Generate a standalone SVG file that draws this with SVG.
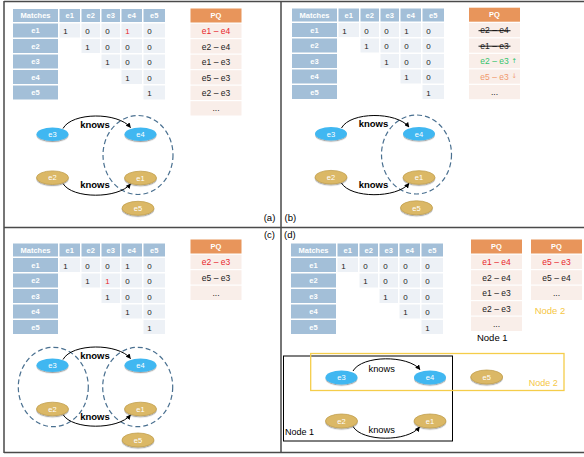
<svg xmlns="http://www.w3.org/2000/svg" width="584" height="457" viewBox="0 0 584 457">
<style>
.hd{fill:#a3bfd8}
.cl{fill:#edf1f6}
.ht{font-family:"Liberation Sans",Arial,sans-serif;font-weight:bold;font-size:7.5px;fill:#fff;text-anchor:middle}
.v{font-family:"Liberation Sans",Arial,sans-serif;font-size:8px;fill:#222;text-anchor:middle}
.pqh{fill:#e8955b}
.pqr{fill:#f9eee9}
.pt{font-family:"Liberation Sans",Arial,sans-serif;font-size:8.5px;fill:#222;text-anchor:middle}
.ph{font-family:"Liberation Sans",Arial,sans-serif;font-weight:bold;font-size:7.5px;fill:#fff;text-anchor:middle}
.red{fill:#e8262c}
.grn{fill:#34c46c}
.org{fill:#f0996c}
.ar{font-family:"DejaVu Sans",sans-serif;font-size:6.5px}
.blue ellipse{fill:#3fb7f1}
.tan ellipse{fill:#dbb866;stroke:#c29f4e;stroke-width:0.8}
.node ellipse{filter:url(#sh)}
.node text{font-family:"Liberation Sans",Arial,sans-serif;font-size:7.5px;fill:#fff;text-anchor:middle}
.edge{fill:none;stroke:#000;stroke-width:1;marker-end:url(#ah)}
.kb{font-family:"Liberation Sans",Arial,sans-serif;font-weight:bold;font-size:9.5px;fill:#000;text-anchor:middle}
.kn{font-family:"Liberation Sans",Arial,sans-serif;font-size:9.3px;fill:#000;text-anchor:middle}
.lbl{font-family:"Liberation Sans",Arial,sans-serif;font-size:9.5px;fill:#000}
.dash{fill:none;stroke:#4a7090;stroke-width:1.2;stroke-dasharray:5 3}
.strike{stroke:#000;stroke-width:0.9}
</style>
<defs>
<filter id="sh" x="-20%" y="-30%" width="140%" height="180%">
<feDropShadow dx="0" dy="1.2" stdDeviation="0.7" flood-color="#000" flood-opacity="0.35"/>
</filter>
<marker id="ah" viewBox="0 0 10 10" refX="9" refY="5" markerWidth="5" markerHeight="5" markerUnits="userSpaceOnUse" orient="auto">
<path d="M0,0 L10,5 L0,10 z" fill="#000"/>
</marker>
<g id="grid">
<rect class="hd" x="13" y="9" width="45" height="13"/>
<rect class="hd" x="59.5" y="9" width="20.5" height="13"/>
<rect class="hd" x="81.5" y="9" width="18.5" height="13"/>
<rect class="hd" x="101.5" y="9" width="18.5" height="13"/>
<rect class="hd" x="121.5" y="9" width="20.5" height="13"/>
<rect class="hd" x="143.5" y="9" width="21.5" height="13"/>
<rect class="hd" x="13" y="23.5" width="45" height="14"/>
<rect class="hd" x="13" y="39" width="45" height="14"/>
<rect class="hd" x="13" y="54.5" width="45" height="14"/>
<rect class="hd" x="13" y="70" width="45" height="14"/>
<rect class="hd" x="13" y="85.5" width="45" height="14"/>
<rect class="cl" x="59.5" y="23.5" width="20.5" height="14"/>
<rect class="cl" x="81.5" y="23.5" width="18.5" height="14"/>
<rect class="cl" x="101.5" y="23.5" width="18.5" height="14"/>
<rect class="cl" x="121.5" y="23.5" width="20.5" height="14"/>
<rect class="cl" x="143.5" y="23.5" width="21.5" height="14"/>
<rect class="cl" x="81.5" y="39" width="18.5" height="14"/>
<rect class="cl" x="101.5" y="39" width="18.5" height="14"/>
<rect class="cl" x="121.5" y="39" width="20.5" height="14"/>
<rect class="cl" x="143.5" y="39" width="21.5" height="14"/>
<rect class="cl" x="101.5" y="54.5" width="18.5" height="14"/>
<rect class="cl" x="121.5" y="54.5" width="20.5" height="14"/>
<rect class="cl" x="143.5" y="54.5" width="21.5" height="14"/>
<rect class="cl" x="121.5" y="70" width="20.5" height="14"/>
<rect class="cl" x="143.5" y="70" width="21.5" height="14"/>
<rect class="cl" x="143.5" y="85.5" width="21.5" height="14"/>
<text class="ht" x="35.5" y="18.3">Matches</text>
<text class="ht" x="69.75" y="18.3">e1</text>
<text class="ht" x="90.75" y="18.3">e2</text>
<text class="ht" x="110.75" y="18.3">e3</text>
<text class="ht" x="131.75" y="18.3">e4</text>
<text class="ht" x="154.25" y="18.3">e5</text>
<text class="ht" x="35.5" y="33.3">e1</text>
<text class="ht" x="35.5" y="48.8">e2</text>
<text class="ht" x="35.5" y="64.3">e3</text>
<text class="ht" x="35.5" y="79.8">e4</text>
<text class="ht" x="35.5" y="95.3">e5</text>
<text class="v" x="65.5" y="34">1</text>
<text class="v" x="87.5" y="34">0</text>
<text class="v" x="107.5" y="34">0</text>
<text class="v" x="149.5" y="34">0</text>
<text class="v" x="87.5" y="49.5">1</text>
<text class="v" x="127.5" y="49.5">0</text>
<text class="v" x="149.5" y="49.5">0</text>
<text class="v" x="107.5" y="65">1</text>
<text class="v" x="127.5" y="65">0</text>
<text class="v" x="149.5" y="65">0</text>
<text class="v" x="127.5" y="80.5">1</text>
<text class="v" x="149.5" y="80.5">0</text>
<text class="v" x="149.5" y="96">1</text>
</g>
</defs>

<g id="frame" stroke="#4a4a4a" stroke-width="1.5" fill="none">
<path d="M4,1.5 H584 M4,227.5 H584 M4,452.5 H584 M4,1 V453 M281,1 V453"/>
</g>

<!-- Panel (a) -->
<g id="table-a">
<use href="#grid"/>
<text class="v red" x="127.5" y="34">1</text>
<text class="v" x="107.5" y="49.5">0</text>
</g>
<g id="pq-a">
<rect class="pqh" x="190.5" y="8.5" width="51" height="14"/>
<text class="ph" x="216" y="18.3">PQ</text>
<rect class="pqr" x="190.5" y="23.7" width="51" height="14.3"/>
<rect class="pqr" x="190.5" y="39.2" width="51" height="14.3"/>
<rect class="pqr" x="190.5" y="54.7" width="51" height="14.3"/>
<rect class="pqr" x="190.5" y="70.2" width="51" height="14.3"/>
<rect class="pqr" x="190.5" y="85.7" width="51" height="14.3"/>
<rect class="pqr" x="190.5" y="101.2" width="51" height="14.3"/>
<text class="pt red" x="216" y="34">e1 – e4</text>
<text class="pt" x="216" y="49.5">e2 – e4</text>
<text class="pt" x="216" y="65">e1 – e3</text>
<text class="pt" x="216" y="80.5">e5 – e3</text>
<text class="pt" x="216" y="96">e2 – e3</text>
<text class="pt" x="216" y="110.5">...</text>
</g>
<g id="graph-a">
<ellipse class="dash" cx="138" cy="155" rx="35" ry="39.5"/>
<g id="connectors-a">
<path class="edge" d="M63,128.5 C72,112 118,112 130.5,127.5"/>
<path class="edge" d="M63,183.5 C72,199 118,199 130.5,184"/>
<text class="kb" x="95" y="127.5">knows</text>
<text class="kb" x="95" y="188">knows</text>
</g>
<g id="a-e3" class="node blue"><ellipse cx="52.5" cy="134.3" rx="16" ry="6.8"/><text x="52.5" y="137">e3</text></g>
<g id="a-e4" class="node blue"><ellipse cx="140.5" cy="134.3" rx="16" ry="6.8"/><text x="140.5" y="137">e4</text></g>
<g id="a-e2" class="node tan"><ellipse cx="52.5" cy="177.7" rx="16" ry="6.8"/><text x="52.5" y="180.4">e2</text></g>
<g id="a-e1" class="node tan"><ellipse cx="140.5" cy="178" rx="16" ry="6.8"/><text x="140.5" y="180.7">e1</text></g>
<g id="a-e5" class="node tan"><ellipse cx="138" cy="208.3" rx="16" ry="7"/><text x="138" y="211">e5</text></g>
</g>
<text class="lbl" x="269.5" y="220.8" text-anchor="middle">(a)</text>

<!-- Panel (b) -->
<g id="table-b" transform="translate(279,-0.5)">
<use href="#grid"/>
<text class="v" x="127.5" y="34">1</text>
<text class="v" x="107.5" y="49.5">0</text>
</g>
<g id="pq-b" transform="translate(278.5,-0.8)">
<rect class="pqh" x="190.5" y="8.5" width="51" height="14"/>
<text class="ph" x="216" y="18.3">PQ</text>
<rect class="pqr" x="190.5" y="23.7" width="51" height="14.3"/>
<rect class="pqr" x="190.5" y="39.2" width="51" height="14.3"/>
<rect class="pqr" x="190.5" y="54.7" width="51" height="14.3"/>
<rect class="pqr" x="190.5" y="70.2" width="51" height="14.3"/>
<rect class="pqr" x="190.5" y="85.7" width="51" height="14.3"/>
<text class="pt" x="216" y="34">e2 – e4</text>
<line class="strike" x1="200" y1="31.5" x2="232" y2="31.5"/>
<text class="pt" x="216" y="49.5">e1 – e3</text>
<line class="strike" x1="200" y1="47" x2="232" y2="47"/>
<text class="pt grn" x="216" y="65">e2 – e3</text>
<text class="ar grn" x="233" y="63.5">↑</text>
<text class="pt org" x="216" y="80.5">e5 – e3</text>
<text class="ar org" x="233" y="78.5">↓</text>
<text class="pt" x="216" y="95.5">...</text>
</g>
<g id="graph-b" transform="translate(278.5,-0.5)">
<ellipse class="dash" cx="138" cy="155" rx="35" ry="39.5"/>
<g id="connectors-b">
<path class="edge" d="M63,128.5 C72,112 118,112 130.5,127.5"/>
<path class="edge" d="M63,183.5 C72,199 118,199 130.5,184"/>
<text class="kb" x="95" y="127.5">knows</text>
<text class="kb" x="95" y="188">knows</text>
</g>
<g id="b-e3" class="node blue"><ellipse cx="52.5" cy="134.3" rx="16" ry="6.8"/><text x="52.5" y="137">e3</text></g>
<g id="b-e4" class="node blue"><ellipse cx="140.5" cy="134.3" rx="16" ry="6.8"/><text x="140.5" y="137">e4</text></g>
<g id="b-e2" class="node tan"><ellipse cx="52.5" cy="177.7" rx="16" ry="6.8"/><text x="52.5" y="180.4">e2</text></g>
<g id="b-e1" class="node tan"><ellipse cx="140.5" cy="178" rx="16" ry="6.8"/><text x="140.5" y="180.7">e1</text></g>
<g id="b-e5" class="node tan"><ellipse cx="138" cy="208.3" rx="16" ry="7"/><text x="138" y="211">e5</text></g>
</g>
<text class="lbl" x="284.5" y="220.8">(b)</text>

<!-- Panel (c) -->
<g id="table-c" transform="translate(0,234.5)">
<use href="#grid"/>
<text class="v" x="127.5" y="34">1</text>
<text class="v red" x="107.5" y="49.5">1</text>
</g>
<g id="pq-c" transform="translate(0,231)">
<rect class="pqh" x="190.5" y="8.5" width="51" height="14"/>
<text class="ph" x="216" y="18.3">PQ</text>
<rect class="pqr" x="190.5" y="23.7" width="51" height="14.3"/>
<rect class="pqr" x="190.5" y="39.2" width="51" height="14.3"/>
<rect class="pqr" x="190.5" y="54.7" width="51" height="14.3"/>
<text class="pt red" x="216" y="34">e2 – e3</text>
<text class="pt" x="216" y="49.5">e5 – e3</text>
<text class="pt" x="216" y="64.5">...</text>
</g>
<g id="graph-c" transform="translate(0,231)">
<ellipse class="dash" cx="53.3" cy="156" rx="35" ry="39.7"/>
<ellipse class="dash" cx="137.7" cy="156" rx="35" ry="39.7"/>
<g id="connectors-c">
<path class="edge" d="M63,128.5 C72,112 118,112 130.5,127.5"/>
<path class="edge" d="M63,183.5 C72,199 118,199 130.5,184"/>
<text class="kb" x="95" y="128">knows</text>
<text class="kb" x="95" y="188.5">knows</text>
</g>
<g id="c-e3" class="node blue"><ellipse cx="52.5" cy="134.3" rx="16" ry="6.8"/><text x="52.5" y="137">e3</text></g>
<g id="c-e4" class="node blue"><ellipse cx="140.5" cy="134.3" rx="16" ry="6.8"/><text x="140.5" y="137">e4</text></g>
<g id="c-e2" class="node tan"><ellipse cx="52.5" cy="178" rx="16" ry="6.8"/><text x="52.5" y="180.7">e2</text></g>
<g id="c-e1" class="node tan"><ellipse cx="140.5" cy="178" rx="16" ry="6.8"/><text x="140.5" y="180.7">e1</text></g>
<g id="c-e5" class="node tan"><ellipse cx="138" cy="209" rx="16" ry="7"/><text x="138" y="211.7">e5</text></g>
</g>
<text class="lbl" x="269.5" y="238.3" text-anchor="middle">(c)</text>

<!-- Panel (d) -->
<text class="lbl" x="284" y="238.3">(d)</text>
<g id="table-d" transform="translate(278,234.5)">
<use href="#grid"/>
<text class="v" x="127.5" y="34">0</text>
<text class="v" x="107.5" y="49.5">0</text>
</g>
<g id="pq-d1" transform="translate(280.5,231)">
<rect class="pqh" x="190.5" y="8.5" width="51" height="14"/>
<text class="ph" x="216" y="18.3">PQ</text>
<rect class="pqr" x="190.5" y="23.7" width="51" height="14.3"/>
<rect class="pqr" x="190.5" y="39.2" width="51" height="14.3"/>
<rect class="pqr" x="190.5" y="54.7" width="51" height="14.3"/>
<rect class="pqr" x="190.5" y="70.2" width="51" height="14.3"/>
<rect class="pqr" x="190.5" y="85.7" width="51" height="14.3"/>
<text class="pt red" x="216" y="34">e1 – e4</text>
<text class="pt" x="216" y="49.5">e2 – e4</text>
<text class="pt" x="216" y="65">e1 – e3</text>
<text class="pt" x="216" y="80.5">e2 – e3</text>
<text class="pt" x="216" y="95.5">...</text>
</g>
<text class="lbl" x="492.3" y="340.5" text-anchor="middle" font-size="9px">Node 1</text>
<g id="pq-d2" transform="translate(340.5,231)">
<rect class="pqh" x="190.5" y="8.5" width="51" height="14"/>
<text class="ph" x="216" y="18.3">PQ</text>
<rect class="pqr" x="190.5" y="23.7" width="51" height="14.3"/>
<rect class="pqr" x="190.5" y="39.2" width="51" height="14.3"/>
<rect class="pqr" x="190.5" y="54.7" width="51" height="14.3"/>
<text class="pt red" x="216" y="34">e5 – e3</text>
<text class="pt" x="216" y="49.5">e5 – e4</text>
<text class="pt" x="216" y="64.5">...</text>
</g>
<text class="lbl" x="550" y="313.5" text-anchor="middle" font-size="9px" fill="#f6c744" style="fill:#f6c744">Node 2</text>

<g id="graph-d">
<rect id="node1-box" x="283.5" y="356" width="169" height="85" fill="none" stroke="#000" stroke-width="1"/>
<rect id="node2-box" x="310.7" y="353.5" width="253.3" height="37" fill="none" stroke="#f5cd4a" stroke-width="1.3"/>
<text class="lbl" x="285" y="435" font-size="9px" style="font-size:9px">Node 1</text>
<text class="lbl" x="543.3" y="386" text-anchor="middle" style="font-size:9px;fill:#f6c744">Node 2</text>
<g id="connectors-d">
<path class="edge" d="M353,371 C362,355 408,355 420,369.5"/>
<path class="edge" d="M353,426.5 C362,442 408,442 419.5,427"/>
<text class="kn" x="381.7" y="371.5">knows</text>
<text class="kn" x="381.7" y="432.5">knows</text>
</g>
<g id="d-e3" class="node blue"><ellipse cx="341.5" cy="377.5" rx="16" ry="7"/><text x="341.5" y="380.2">e3</text></g>
<g id="d-e4" class="node blue"><ellipse cx="430" cy="377.5" rx="16" ry="7"/><text x="430" y="380.2">e4</text></g>
<g id="d-e5" class="node tan"><ellipse cx="486.7" cy="377" rx="16" ry="7"/><text x="486.7" y="379.7">e5</text></g>
<g id="d-e2" class="node tan"><ellipse cx="341.5" cy="421" rx="16" ry="7"/><text x="341.5" y="423.7">e2</text></g>
<g id="d-e1" class="node tan"><ellipse cx="430" cy="421" rx="16" ry="7"/><text x="430" y="423.7">e1</text></g>
</g>
</svg>
